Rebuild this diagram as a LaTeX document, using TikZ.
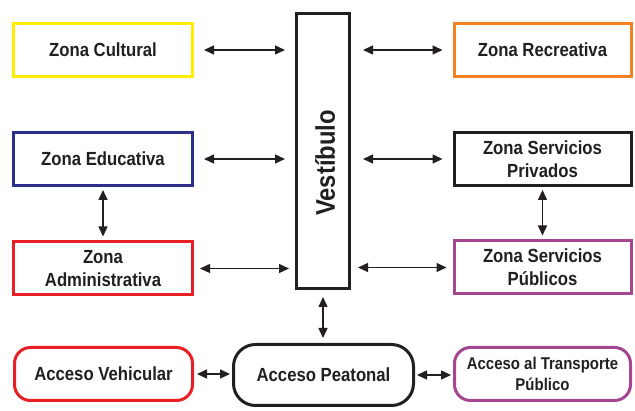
\documentclass[tikz,border=0pt]{standalone}
\usepackage{fontspec}
\setmainfont{Liberation Sans}[FakeStretch=0.88]
\usetikzlibrary{arrows.meta}
\definecolor{cyel}{RGB}{255,238,0}
\definecolor{cblu}{RGB}{43,46,140}
\definecolor{cred}{RGB}{232,32,38}
\definecolor{cora}{RGB}{245,130,32}
\definecolor{cblk}{RGB}{35,31,32}
\definecolor{cpur}{RGB}{165,70,145}
\begin{document}
\begin{tikzpicture}[x=1pt,y=-1pt,
  zbox/.style={draw, line width=3pt, minimum width=179pt, minimum height=53pt, inner sep=0pt,
     align=center, text=cblk, font=\fontsize{19}{23}\selectfont\bfseries},
  rbox/.style={zbox, rounded corners=16pt},
  conn/.style={cblk, line width=1.4pt, {Triangle[length=10pt,width=9pt]}-{Triangle[length=10pt,width=9pt]}}
]
\useasboundingbox (0,0) rectangle (635,411);
\fill[white] (0,0) rectangle (635,411);
\node[zbox, draw=cyel] (cult) at (103,50) {Zona Cultural};
\node[zbox, draw=cblu] (educ) at (103,159) {Zona Educativa};
\node[zbox, draw=cred] (admin) at (103,268.5) {Zona\\Administrativa};
\node[zbox, draw=cora, minimum width=177pt] (recr) at (542.5,50) {Zona Recreativa};
\node[zbox, draw=cblk, minimum width=177pt] (priv) at (542.5,159) {Zona Servicios\\Privados};
\node[zbox, draw=cpur, minimum width=177pt] (publ) at (542.5,267.5) {Zona Servicios\\Públicos};
\node[draw=cblk, line width=3pt, minimum width=53pt, minimum height=275pt, inner sep=0pt] (vest) at (323,151) {};
\node[text=cblk, font=\fontsize{27}{30}\selectfont\bfseries, rotate=90] (vestt) at (325,163) {Vestíbulo};
\node[rbox, draw=cred, minimum width=178pt] (vehic) at (103.5,374) {Acceso Vehicular};
\node[rbox, draw=cblk, minimum width=180pt, minimum height=61pt, rounded corners=22pt] (peat) at (323.5,375) {Acceso Peatonal};
\node[rbox, draw=cpur, minimum width=176pt, font=\fontsize{17}{21}\selectfont\bfseries] (trans) at (542.5,374) {Acceso al Transporte\\Público};
% connectors
\draw[conn, shorten <=10pt, shorten >=10pt] (cult.east) -- (cult.east -| vest.west);
\draw[conn, shorten <=10pt, shorten >=10pt] (educ.east) -- (educ.east -| vest.west);
\draw[conn, shorten <=6pt, shorten >=6pt] (admin.east) -- (admin.east -| vest.west);
\draw[conn, shorten <=12pt, shorten >=10pt] (recr.west -| vest.east) -- (recr.west);
\draw[conn, shorten <=12pt, shorten >=10pt] (priv.west -| vest.east) -- (priv.west);
\draw[conn, shorten <=7pt, shorten >=6pt] (publ.west -| vest.east) -- (publ.west);
\draw[conn, shorten <=3pt, shorten >=4pt] (educ.south) -- (admin.north);
\draw[conn, shorten <=3pt, shorten >=4pt] (priv.south) -- (publ.north);
\draw[conn, shorten <=7pt, shorten >=5pt] (vest.south) -- (vest.south |- peat.north);
\draw[conn, shorten <=3pt, shorten >=2pt] (vehic.east) -- (vehic.east -| peat.west);
\draw[conn, shorten <=2pt, shorten >=2pt] (peat.east) -- (peat.east -| trans.west);
\end{tikzpicture}
\end{document}
